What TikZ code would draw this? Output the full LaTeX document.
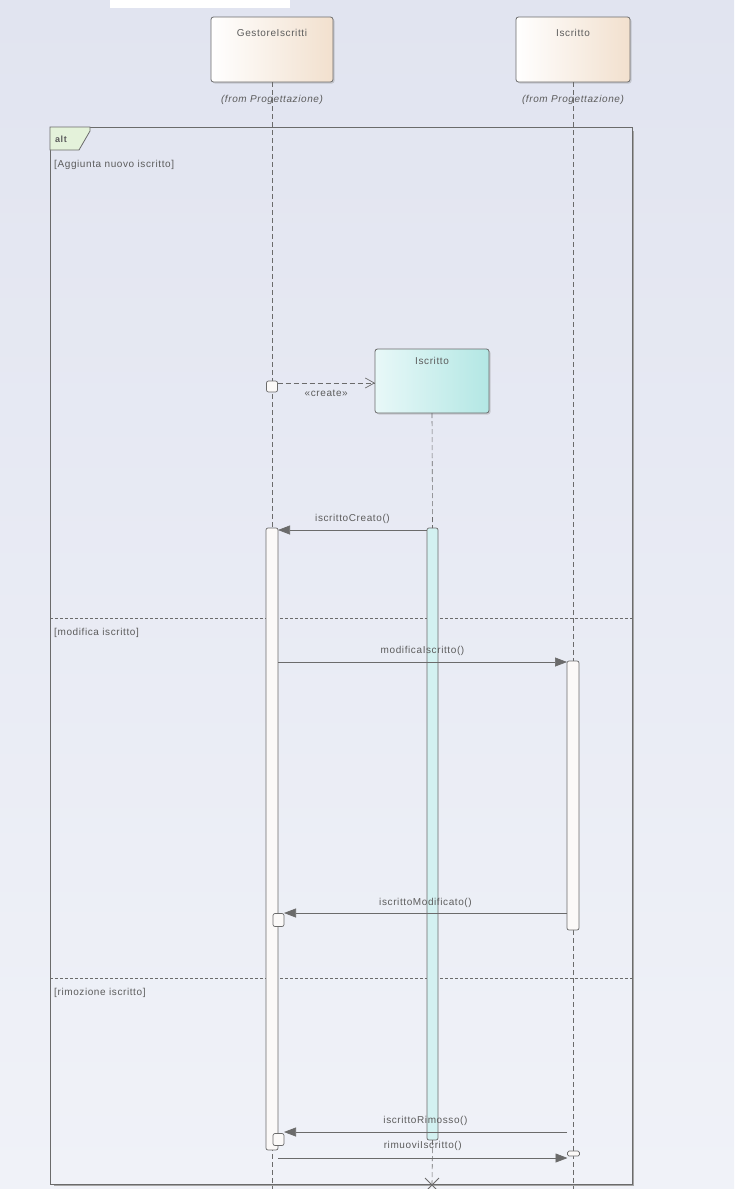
\documentclass[tikz,border=0pt]{standalone}
\usepackage{fontspec}
\setmainfont{Liberation Sans}[LetterSpace=6]
\usetikzlibrary{arrows.meta,shadows}
\definecolor{bgtop}{HTML}{E1E4F0}
\definecolor{bgbot}{HTML}{F0F2F8}
\definecolor{linegray}{HTML}{6B6B6B}
\definecolor{txtgray}{HTML}{5C5C5C}
\definecolor{peach}{HTML}{F2E0CE}
\definecolor{cyanL}{HTML}{E8F8F8}
\definecolor{cyanR}{HTML}{B3E7E4}
\definecolor{actcyan}{HTML}{D3F1F1}
\definecolor{actwhite}{HTML}{FBF9F8}
\definecolor{altgreen}{HTML}{E4F2DA}
\begin{document}
\begin{tikzpicture}[x=1pt,y=-1pt,
  lbl/.style={font=\fontsize{10}{12}\selectfont, text=txtgray, inner sep=0pt},
  fromlbl/.style={font=\fontsize{10}{12}\selectfont\itshape, text=txtgray, inner sep=0pt},
  obj/.style={draw=linegray, line width=0.8pt, rounded corners=2.5pt, inner sep=0pt, outer sep=0pt,
    drop shadow={shadow xshift=1.5pt, shadow yshift=-1.5pt, opacity=0.3}},
  act/.style={draw=linegray, line width=0.7pt, rounded corners=2pt, inner sep=0pt, outer sep=0pt, fill=actwhite},
  life/.style={draw=linegray, line width=0.6pt, dash pattern=on 5pt off 3pt},
  sepline/.style={draw=linegray, line width=0.6pt, dash pattern=on 3pt off 2pt},
  msg/.style={draw=linegray, line width=0.7pt, -{Triangle[length=12pt,width=9pt]}},
  createmsg/.style={draw=linegray, line width=0.7pt, dash pattern=on 5pt off 3pt, -{Straight Barb[length=9pt,width=10pt]}},
  framebox/.style={draw=linegray, line width=0.9pt, inner sep=0pt, outer sep=0pt}
]
\useasboundingbox (0,0) rectangle (734,1189);
\fill[top color=bgtop, bottom color=bgbot] (0,0) rectangle (734,1189);
\fill[white] (110,0) rectangle (290,8);

% frame
\node[framebox, minimum width=582pt, minimum height=1057pt] (frame) at (341,655.5) {};
\draw[black!35, line width=1.2pt] ([shift={(1.6,4)}]frame.north east) -- ([shift={(1.6,1.6)}]frame.south east) -- ([shift={(4,1.6)}]frame.south west);
\draw[draw=linegray, line width=0.8pt, fill=altgreen] (frame.north west) -- (90,127) -- (90,131) -- (79,150) -- (50,150) -- cycle;
\node[lbl, anchor=west, font=\fontsize{9}{11}\selectfont\bfseries] (altT) at (55,139) {alt};
\node[lbl, anchor=west] (g1) at (54,165) {[Aggiunta nuovo iscritto]};
\node[lbl, anchor=west] (g2) at (54,633) {[modifica iscritto]};
\node[lbl, anchor=west] (g3) at (54,993) {[rimozione iscritto]};
\draw[sepline] (frame.west |- 0,618) -- (frame.east |- 0,618);
\draw[sepline] (frame.west |- 0,978) -- (frame.east |- 0,978);

% lifeline heads
\node[obj, shade, left color=white, right color=peach, minimum width=122pt, minimum height=65pt] (gest) at (272,49.5) {};
\node[lbl] (gestT) at (272,33) {GestoreIscritti};
\node[obj, shade, left color=white, right color=peach, minimum width=114pt, minimum height=65pt] (isc) at (573,49.5) {};
\node[lbl] (iscT) at (573,33) {Iscritto};
\coordinate (gend) at (272,1189);
\coordinate (iend) at (573,1189);
\draw[life] (gest.south) -- (gend);
\draw[life] (isc.south) -- (iend);
\node[fromlbl] (gestF) at (272,100) {(from Progettazione)};
\node[fromlbl] (iscF) at (573,100) {(from Progettazione)};

% created object
\node[obj, shade, left color=cyanL, right color=cyanR, minimum width=114pt, minimum height=64pt] (newisc) at (432,381) {};
\node[lbl] (newiscT) at (432,361) {Iscritto};
\coordinate (xd) at (432,1185);

% activations
\node[act, minimum width=12pt, minimum height=622pt] (gact) at (272,839) {};
\node[act, fill=actcyan, minimum width=11pt, minimum height=612pt] (cact) at (432.5,834) {};
\node[act, minimum width=12pt, minimum height=269pt] (iact) at (573,795.5) {};
\draw[life] (newisc.south) -- (cact.north);
\draw[life] (cact.south) -- (xd);
\draw[draw=linegray, line width=0.8pt] ([shift={(-7,-7)}]xd) -- ([shift={(7,7)}]xd) ([shift={(7,-7)}]xd) -- ([shift={(-7,7)}]xd);

% execution occurrence squares
\node[act, minimum width=11pt, minimum height=11pt] (sq1) at (272,386.5) {};
\node[act, minimum width=11pt, minimum height=13pt] (sq2) at (278.5,920) {};
\node[act, minimum width=11pt, minimum height=12pt] (sq3) at (278.5,1139.5) {};
\node[act, rounded corners=1.5pt, minimum width=12pt, minimum height=5pt] (pill) at (573.5,1153.5) {};

% messages
\draw[createmsg] (sq1.east |- 0,383) -- node[lbl, below=7pt] {«create»} (newisc.west |- 0,383);
\draw[msg] (cact.west |- 0,530) -- node[lbl, above=6pt] {iscrittoCreato()} (gact.east |- 0,530);
\draw[msg] (gact.east |- 0,662) -- node[lbl, above=6pt] {modificaIscritto()} (iact.west |- 0,662);
\draw[msg] (iact.west |- 0,913) -- node[lbl, above=5pt] {iscrittoModificato()} (sq2.east |- 0,913);
\draw[msg] (iact.west |- 0,1132) -- node[lbl, above=6pt] {iscrittoRimosso()} (sq3.east |- 0,1132);
\draw[msg] (gact.east |- 0,1158) -- node[lbl, above=7pt] {rimuoviIscritto()} (pill.west |- 0,1158);
\end{tikzpicture}
\end{document}
